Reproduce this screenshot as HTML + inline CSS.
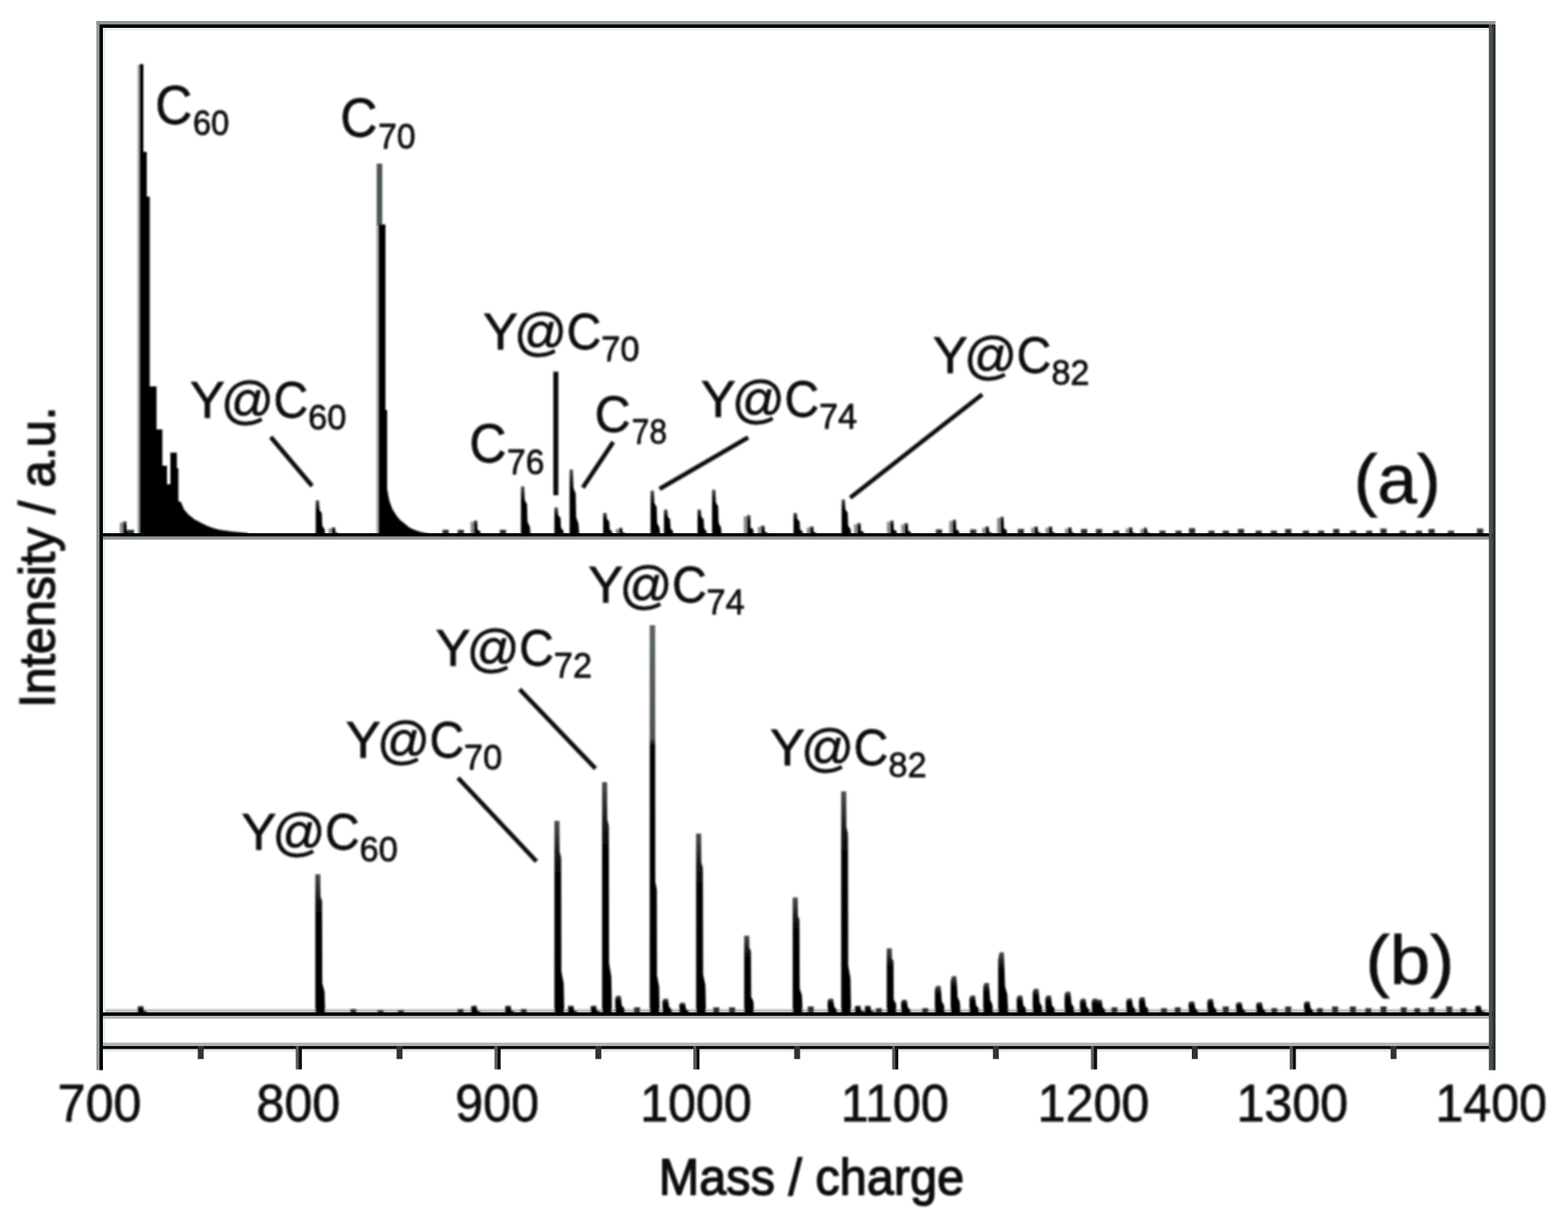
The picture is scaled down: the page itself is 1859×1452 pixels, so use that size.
<!DOCTYPE html>
<html lang="en">
<head>
<meta charset="utf-8">
<title>Mass spectra</title>
<style>
html,body{margin:0;padding:0;background:#fff;}
body{width:1859px;height:1452px;overflow:hidden;}
svg{display:block;}
text{font-family:"Liberation Sans",Arial,sans-serif;fill:#0a0a0a;stroke:#0a0a0a;stroke-width:0.8;}
</style>
</head>
<body>
<svg width="1859" height="1452" viewBox="0 0 1859 1452">
<defs>
<filter id="b1" x="-2%" y="-2%" width="104%" height="104%"><feGaussianBlur stdDeviation="1.0"/></filter>
<linearGradient id="g1" x1="0" y1="0" x2="0" y2="1"><stop offset="0" stop-color="#4a5050"/><stop offset="0.15" stop-color="#1c2020"/><stop offset="0.3" stop-color="#000"/></linearGradient>
<linearGradient id="g2" x1="0" y1="0" x2="0" y2="1"><stop offset="0" stop-color="#5c6262"/><stop offset="0.29" stop-color="#4a5050"/><stop offset="0.31" stop-color="#000"/></linearGradient>
<filter id="b2" x="-2%" y="-2%" width="104%" height="104%"><feGaussianBlur stdDeviation="0.55"/></filter>
<filter id="b3" x="-2%" y="-2%" width="104%" height="104%"><feGaussianBlur stdDeviation="1.1"/></filter>
</defs>
<rect width="1859" height="1452" fill="#fff"/>
<g filter="url(#b1)">
<g fill="#000">
<rect x="122.0" y="1196.4" width="1643.0" height="4.1" fill="#b4b8b8"/>
<rect x="163.0" y="77.0" width="2.2" height="557.0" fill="#a8aeae"/>
<polygon points="165.2,634.0 165.2,76.0 170.0,76.0 170.0,180.0 174.0,180.0 174.0,233.0 177.5,233.0 177.5,458.0 185.6,458.0 185.6,509.0 192.5,509.0 192.5,552.0 198.0,552.0 198.0,574.0 202.0,574.0 202.0,536.6 209.7,536.6 209.7,555.0 211.5,555.0 211.5,594.0 214.5,595.0 218.0,603.5 223.0,609.5 230.4,615.5 239.0,620.0 245.5,623.3 253.0,626.0 260.5,628.0 275.0,630.0 292.8,631.8 297.0,634.0"/>
<rect x="446.2" y="266.0" width="2.4" height="368.0" fill="#a8aeae"/>
<rect x="446.6" y="194.0" width="6.6" height="73.0" fill="#4e5454"/>
<polygon points="448.6,634.0 448.6,266.0 453.0,266.0 457.0,266.0 457.0,486.0 459.0,486.0 459.0,580.0 461.5,593.0 465.0,603.0 470.0,611.0 474.0,616.0 479.0,620.0 485.0,625.0 490.0,627.5 497.0,630.0 505.0,632.0 512.0,633.5 514.0,634.0"/>
<rect x="142.0" y="619.5" width="4.1" height="15.5" fill="#8a9090"/><polygon fill="url(#g1)" points="145.9,635.0 145.9,618.0 149.9,618.0 150.1,628.2 153.5,629.9 153.9,635.0"/>
<polygon fill="#2a2e2e" points="151.6,635.0 151.6,628.0 159.0,628.0 159.0,635.0"/>
<polygon fill="url(#g1)" points="374.3,635.0 374.3,593.0 378.3,593.0 378.9,604.8 381.5,608.1 382.1,623.2 384.9,627.4 385.8,635.0"/>
<rect x="389.5" y="626.5" width="4.1" height="8.5" fill="#8a9090"/><polygon fill="url(#g1)" points="393.4,635.0 393.4,625.0 397.4,625.0 397.6,631.0 401.0,632.0 401.4,635.0"/>
<polygon fill="#2a2e2e" points="524.6,635.0 524.6,628.0 532.0,628.0 532.0,635.0"/>
<polygon fill="#2a2e2e" points="542.6,635.0 542.6,628.0 550.0,628.0 550.0,635.0"/>
<rect x="557.9" y="618.5" width="4.1" height="16.5" fill="#8a9090"/><polygon fill="url(#g1)" points="561.8,635.0 561.8,617.0 565.8,617.0 566.0,627.8 569.4,629.6 569.8,635.0"/>
<polygon fill="#2a2e2e" points="592.6,635.0 592.6,628.0 600.0,628.0 600.0,635.0"/>
<polygon fill="url(#g1)" points="617.6,635.0 617.6,576.5 621.6,576.5 622.2,592.9 624.8,597.6 625.4,618.6 628.2,624.5 629.1,635.0"/>
<polygon fill="url(#g1)" points="657.3,635.0 657.3,601.5 661.3,601.5 661.9,610.9 664.5,613.6 665.1,625.6 667.9,629.0 668.8,635.0"/>
<polygon fill="url(#g1)" points="675.3,635.0 675.3,556.5 679.3,556.5 679.9,578.5 682.5,584.8 683.1,613.0 685.9,620.9 686.8,635.0"/>
<polygon fill="url(#g1)" points="715.1,635.0 715.1,608.0 719.1,608.0 719.7,615.6 722.3,617.7 722.9,627.4 725.7,630.1 726.6,635.0"/>
<rect x="730.0" y="627.0" width="4.1" height="8.0" fill="#8a9090"/><polygon fill="url(#g1)" points="733.9,635.0 733.9,625.5 737.9,625.5 738.1,631.2 741.5,632.1 741.9,635.0"/>
<polygon fill="url(#g1)" points="771.3,635.0 771.3,581.5 775.3,581.5 775.9,596.5 778.5,600.8 779.1,620.0 781.9,625.4 782.8,635.0"/>
<polygon fill="url(#g1)" points="787.2,635.0 787.2,604.0 791.2,604.0 791.8,612.7 794.4,615.2 795.0,626.3 797.8,629.4 798.7,635.0"/>
<polygon fill="url(#g1)" points="827.0,635.0 827.0,604.0 831.0,604.0 831.6,612.7 834.2,615.2 834.8,626.3 837.6,629.4 838.5,635.0"/>
<polygon fill="url(#g1)" points="844.2,635.0 844.2,580.5 848.2,580.5 848.8,595.8 851.4,600.1 852.0,619.7 854.8,625.2 855.7,635.0"/>
<rect x="881.7" y="612.0" width="4.1" height="23.0" fill="#8a9090"/><polygon fill="url(#g1)" points="885.6,635.0 885.6,610.5 889.6,610.5 889.8,625.2 893.2,627.6 893.6,635.0"/>
<rect x="898.5" y="624.5" width="4.1" height="10.5" fill="#8a9090"/><polygon fill="url(#g1)" points="902.4,635.0 902.4,623.0 906.4,623.0 906.6,630.2 910.0,631.4 910.4,635.0"/>
<polygon fill="url(#g1)" points="940.8,635.0 940.8,608.0 944.8,608.0 945.4,615.6 948.0,617.7 948.6,627.4 951.4,630.1 952.3,635.0"/>
<rect x="956.5" y="625.5" width="4.1" height="9.5" fill="#8a9090"/><polygon fill="url(#g1)" points="960.4,635.0 960.4,624.0 964.4,624.0 964.6,630.6 968.0,631.7 968.4,635.0"/>
<polygon fill="url(#g1)" points="997.8,635.0 997.8,592.0 1001.8,592.0 1002.4,604.0 1005.0,607.5 1005.6,623.0 1008.4,627.3 1009.3,635.0"/>
<rect x="1012.5" y="621.5" width="4.1" height="13.5" fill="#8a9090"/><polygon fill="url(#g1)" points="1016.4,635.0 1016.4,620.0 1020.4,620.0 1020.6,629.0 1024.0,630.5 1024.4,635.0"/>
<rect x="1051.5" y="618.5" width="4.1" height="16.5" fill="#8a9090"/><polygon fill="url(#g1)" points="1055.4,635.0 1055.4,617.0 1059.4,617.0 1059.6,627.8 1063.0,629.6 1063.4,635.0"/>
<rect x="1068.5" y="621.5" width="4.1" height="13.5" fill="#8a9090"/><polygon fill="url(#g1)" points="1072.4,635.0 1072.4,620.0 1076.4,620.0 1076.6,629.0 1080.0,630.5 1080.4,635.0"/>
<polygon fill="#2a2e2e" points="1109.6,635.0 1109.6,627.5 1117.0,627.5 1117.0,635.0"/>
<rect x="1125.5" y="617.5" width="4.1" height="17.5" fill="#8a9090"/><polygon fill="url(#g1)" points="1129.4,635.0 1129.4,616.0 1133.4,616.0 1133.6,627.4 1137.0,629.3 1137.4,635.0"/>
<polygon fill="#2a2e2e" points="1150.1,635.0 1150.1,627.5 1157.5,627.5 1157.5,635.0"/>
<rect x="1164.5" y="625.5" width="4.1" height="9.5" fill="#8a9090"/><polygon fill="url(#g1)" points="1168.4,635.0 1168.4,624.0 1172.4,624.0 1172.6,630.6 1176.0,631.7 1176.4,635.0"/>
<rect x="1182.1" y="614.0" width="4.1" height="21.0" fill="#8a9090"/><polygon fill="url(#g1)" points="1186.0,635.0 1186.0,612.5 1190.0,612.5 1190.2,626.0 1193.6,628.2 1194.0,635.0"/>
<polygon fill="#2a2e2e" points="1206.6,635.0 1206.6,627.0 1214.0,627.0 1214.0,635.0"/>
<rect x="1222.5" y="625.5" width="4.1" height="9.5" fill="#8a9090"/><polygon fill="url(#g1)" points="1226.4,635.0 1226.4,624.0 1230.4,624.0 1230.6,630.6 1234.0,631.7 1234.4,635.0"/>
<rect x="1239.5" y="625.5" width="4.1" height="9.5" fill="#8a9090"/><polygon fill="url(#g1)" points="1243.4,635.0 1243.4,624.0 1247.4,624.0 1247.6,630.6 1251.0,631.7 1251.4,635.0"/>
<rect x="1262.5" y="626.5" width="4.1" height="8.5" fill="#8a9090"/><polygon fill="url(#g1)" points="1266.4,635.0 1266.4,625.0 1270.4,625.0 1270.6,631.0 1274.0,632.0 1274.4,635.0"/>
<polygon fill="#2a2e2e" points="1281.6,635.0 1281.6,627.0 1289.0,627.0 1289.0,635.0"/>
<polygon fill="#2a2e2e" points="1299.3,635.0 1299.3,627.0 1306.7,627.0 1306.7,635.0"/>
<polygon fill="#2a2e2e" points="1319.6,635.0 1319.6,629.0 1327.0,629.0 1327.0,635.0"/>
<rect x="1334.5" y="626.5" width="4.1" height="8.5" fill="#8a9090"/><polygon fill="url(#g1)" points="1338.4,635.0 1338.4,625.0 1342.4,625.0 1342.6,631.0 1346.0,632.0 1346.4,635.0"/>
<rect x="1352.0" y="627.0" width="4.1" height="8.0" fill="#8a9090"/><polygon fill="url(#g1)" points="1355.9,635.0 1355.9,625.5 1359.9,625.5 1360.1,631.2 1363.5,632.1 1363.9,635.0"/>
<polygon fill="#2a2e2e" points="1374.6,635.0 1374.6,629.0 1382.0,629.0 1382.0,635.0"/>
<polygon fill="#2a2e2e" points="1393.6,635.0 1393.6,629.0 1401.0,629.0 1401.0,635.0"/>
<polygon fill="#2a2e2e" points="1409.6,635.0 1409.6,626.0 1417.0,626.0 1417.0,635.0"/>
<polygon fill="#2a2e2e" points="1432.6,635.0 1432.6,629.0 1440.0,629.0 1440.0,635.0"/>
<polygon fill="#2a2e2e" points="1449.6,635.0 1449.6,629.0 1457.0,629.0 1457.0,635.0"/>
<polygon fill="#2a2e2e" points="1467.6,635.0 1467.6,627.0 1475.0,627.0 1475.0,635.0"/>
<polygon fill="#2a2e2e" points="1488.6,635.0 1488.6,629.0 1496.0,629.0 1496.0,635.0"/>
<polygon fill="#2a2e2e" points="1506.6,635.0 1506.6,629.0 1514.0,629.0 1514.0,635.0"/>
<polygon fill="#2a2e2e" points="1523.6,635.0 1523.6,627.0 1531.0,627.0 1531.0,635.0"/>
<polygon fill="#2a2e2e" points="1544.6,635.0 1544.6,629.0 1552.0,629.0 1552.0,635.0"/>
<polygon fill="#2a2e2e" points="1562.6,635.0 1562.6,629.0 1570.0,629.0 1570.0,635.0"/>
<polygon fill="#2a2e2e" points="1580.6,635.0 1580.6,627.0 1588.0,627.0 1588.0,635.0"/>
<polygon fill="#2a2e2e" points="1600.6,635.0 1600.6,629.0 1608.0,629.0 1608.0,635.0"/>
<polygon fill="#2a2e2e" points="1619.6,635.0 1619.6,629.0 1627.0,629.0 1627.0,635.0"/>
<polygon fill="#2a2e2e" points="1636.6,635.0 1636.6,626.5 1644.0,626.5 1644.0,635.0"/>
<polygon fill="#2a2e2e" points="1659.6,635.0 1659.6,629.0 1667.0,629.0 1667.0,635.0"/>
<polygon fill="#2a2e2e" points="1678.6,635.0 1678.6,629.0 1686.0,629.0 1686.0,635.0"/>
<polygon fill="#2a2e2e" points="1693.6,635.0 1693.6,627.0 1701.0,627.0 1701.0,635.0"/>
<polygon fill="#2a2e2e" points="1716.6,635.0 1716.6,629.0 1724.0,629.0 1724.0,635.0"/>
<polygon fill="#2a2e2e" points="1751.1,635.0 1751.1,626.5 1758.5,626.5 1758.5,635.0"/>
<polygon fill="url(#g1)" points="163.1,1202.0 163.1,1193.9 164.6,1192.5 169.7,1192.5 170.5,1195.8 171.1,1197.7 174.1,1199.0 174.9,1202.0"/>
<polygon fill="#2a2e2e" points="415.1,1202.0 415.1,1196.0 422.5,1196.0 422.5,1202.0"/>
<polygon fill="#2a2e2e" points="447.6,1202.0 447.6,1197.0 455.0,1197.0 455.0,1202.0"/>
<polygon fill="#2a2e2e" points="471.6,1202.0 471.6,1197.0 479.0,1197.0 479.0,1202.0"/>
<polygon fill="#2a2e2e" points="542.3,1202.0 542.3,1196.0 549.7,1196.0 549.7,1202.0"/>
<polygon fill="url(#g1)" points="558.4,1202.0 558.4,1193.5 559.9,1192.0 565.0,1192.0 565.8,1195.5 566.4,1197.5 569.4,1198.8 570.2,1202.0"/>
<polygon fill="url(#g1)" points="598.7,1202.0 598.7,1193.5 600.2,1192.0 605.3,1192.0 606.1,1195.5 606.7,1197.5 609.7,1198.8 610.5,1202.0"/>
<polygon fill="#2a2e2e" points="617.2,1202.0 617.2,1196.0 624.6,1196.0 624.6,1202.0"/>
<polygon fill="url(#g1)" points="673.2,1202.0 673.2,1193.5 674.7,1192.0 679.8,1192.0 680.6,1195.5 681.2,1197.5 684.2,1198.8 685.0,1202.0"/>
<polygon fill="url(#g1)" points="700.1,1202.0 700.1,1193.5 701.6,1192.0 706.7,1192.0 707.5,1195.5 708.1,1197.5 711.1,1198.8 711.9,1202.0"/>
<polygon fill="url(#g1)" points="729.4,1202.0 729.4,1183.6 730.9,1180.3 736.0,1180.3 736.8,1187.9 737.4,1192.2 740.4,1195.1 741.2,1202.0"/>
<polygon fill="#2a2e2e" points="751.6,1202.0 751.6,1194.0 759.0,1194.0 759.0,1202.0"/>
<polygon fill="url(#g1)" points="785.4,1202.0 785.4,1186.5 786.9,1183.8 792.0,1183.8 792.8,1190.2 793.4,1193.8 796.4,1196.2 797.2,1202.0"/>
<polygon fill="url(#g1)" points="805.4,1202.0 805.4,1190.5 806.9,1188.5 812.0,1188.5 812.8,1193.2 813.4,1195.9 816.4,1197.7 817.2,1202.0"/>
<polygon fill="#2a2e2e" points="845.6,1202.0 845.6,1194.0 853.0,1194.0 853.0,1202.0"/>
<polygon fill="#2a2e2e" points="864.3,1202.0 864.3,1194.0 871.7,1194.0 871.7,1202.0"/>
<polygon fill="#2a2e2e" points="957.6,1202.0 957.6,1193.0 965.0,1193.0 965.0,1202.0"/>
<polygon fill="url(#g1)" points="981.2,1202.0 981.2,1186.5 982.7,1183.8 987.8,1183.8 988.6,1190.2 989.2,1193.8 992.2,1196.2 993.0,1202.0"/>
<polygon fill="url(#g1)" points="1013.4,1202.0 1013.4,1193.5 1014.9,1192.0 1020.0,1192.0 1020.8,1195.5 1021.4,1197.5 1024.4,1198.8 1025.2,1202.0"/>
<polygon fill="url(#g1)" points="1025.2,1202.0 1025.2,1193.5 1026.7,1192.0 1031.8,1192.0 1032.6,1195.5 1033.2,1197.5 1036.2,1198.8 1037.0,1202.0"/>
<polygon fill="#2a2e2e" points="1038.3,1202.0 1038.3,1195.0 1045.7,1195.0 1045.7,1202.0"/>
<polygon fill="url(#g1)" points="1068.4,1202.0 1068.4,1187.5 1069.9,1185.0 1075.0,1185.0 1075.8,1191.0 1076.4,1194.3 1079.4,1196.6 1080.2,1202.0"/>
<polygon fill="#2a2e2e" points="1093.3,1202.0 1093.3,1195.0 1100.7,1195.0 1100.7,1202.0"/>
<polygon fill="url(#g1)" points="1108.4,1202.0 1108.4,1172.6 1110.0,1168.6 1115.2,1168.6 1116.0,1178.6 1116.6,1187.0 1119.2,1191.3 1119.9,1197.0 1120.9,1202.0"/>
<polygon fill="url(#g1)" points="1127.1,1202.0 1127.1,1162.4 1128.7,1157.0 1133.9,1157.0 1134.7,1170.5 1135.3,1181.8 1137.9,1187.6 1138.6,1195.2 1139.6,1202.0"/>
<polygon fill="url(#g1)" points="1149.4,1202.0 1149.4,1183.3 1150.9,1180.0 1156.0,1180.0 1156.8,1187.7 1157.4,1192.1 1160.4,1195.0 1161.2,1202.0"/>
<polygon fill="url(#g1)" points="1165.7,1202.0 1165.7,1169.4 1167.3,1165.0 1172.5,1165.0 1173.3,1176.1 1173.9,1185.3 1176.5,1190.2 1177.2,1196.5 1178.2,1202.0"/>
<polygon fill="url(#g1)" points="1183.4,1202.0 1183.4,1137.6 1185.0,1128.8 1190.2,1128.8 1191.0,1150.8 1191.6,1169.1 1194.2,1178.6 1194.9,1191.0 1195.9,1202.0"/>
<polygon fill="url(#g1)" points="1205.4,1202.0 1205.4,1183.3 1206.9,1180.0 1212.0,1180.0 1212.8,1187.7 1213.4,1192.1 1216.4,1195.0 1217.2,1202.0"/>
<polygon fill="url(#g1)" points="1224.4,1202.0 1224.4,1175.6 1226.0,1172.0 1231.2,1172.0 1232.0,1181.0 1232.6,1188.5 1235.2,1192.4 1235.9,1197.5 1236.9,1202.0"/>
<polygon fill="url(#g1)" points="1239.4,1202.0 1239.4,1183.3 1240.9,1180.0 1246.0,1180.0 1246.8,1187.7 1247.4,1192.1 1250.4,1195.0 1251.2,1202.0"/>
<polygon fill="url(#g1)" points="1262.2,1202.0 1262.2,1178.8 1263.8,1175.6 1269.0,1175.6 1269.8,1183.5 1270.4,1190.1 1273.0,1193.6 1273.7,1198.0 1274.7,1202.0"/>
<polygon fill="url(#g1)" points="1280.4,1202.0 1280.4,1186.5 1281.9,1183.8 1287.0,1183.8 1287.8,1190.2 1288.4,1193.8 1291.4,1196.2 1292.2,1202.0"/>
<polygon fill="url(#g1)" points="1294.4,1202.0 1294.4,1186.5 1295.9,1183.8 1301.0,1183.8 1301.8,1190.2 1302.4,1193.8 1305.4,1196.2 1306.2,1202.0"/>
<polygon fill="url(#g1)" points="1299.4,1202.0 1299.4,1187.5 1300.9,1185.0 1306.0,1185.0 1306.8,1191.0 1307.4,1194.3 1310.4,1196.6 1311.2,1202.0"/>
<polygon fill="#2a2e2e" points="1317.6,1202.0 1317.6,1194.0 1325.0,1194.0 1325.0,1202.0"/>
<polygon fill="url(#g1)" points="1335.4,1202.0 1335.4,1186.2 1336.9,1183.4 1342.0,1183.4 1342.8,1189.9 1343.4,1193.6 1346.4,1196.0 1347.2,1202.0"/>
<polygon fill="url(#g1)" points="1350.4,1202.0 1350.4,1185.0 1351.9,1182.0 1357.0,1182.0 1357.8,1189.0 1358.4,1193.0 1361.4,1195.6 1362.2,1202.0"/>
<polygon fill="#2a2e2e" points="1376.3,1202.0 1376.3,1195.0 1383.7,1195.0 1383.7,1202.0"/>
<polygon fill="#2a2e2e" points="1392.6,1202.0 1392.6,1194.0 1400.0,1194.0 1400.0,1202.0"/>
<polygon fill="url(#g1)" points="1409.2,1202.0 1409.2,1189.2 1410.7,1187.0 1415.8,1187.0 1416.6,1192.2 1417.2,1195.2 1420.2,1197.2 1421.0,1202.0"/>
<polygon fill="url(#g1)" points="1431.4,1202.0 1431.4,1186.7 1432.9,1184.0 1438.0,1184.0 1438.8,1190.3 1439.4,1193.9 1442.4,1196.2 1443.2,1202.0"/>
<polygon fill="#2a2e2e" points="1449.6,1202.0 1449.6,1193.0 1457.0,1193.0 1457.0,1202.0"/>
<polygon fill="url(#g1)" points="1465.4,1202.0 1465.4,1190.1 1466.9,1188.0 1472.0,1188.0 1472.8,1192.9 1473.4,1195.7 1476.4,1197.5 1477.2,1202.0"/>
<polygon fill="url(#g1)" points="1489.4,1202.0 1489.4,1190.1 1490.9,1188.0 1496.0,1188.0 1496.8,1192.9 1497.4,1195.7 1500.4,1197.5 1501.2,1202.0"/>
<polygon fill="#2a2e2e" points="1507.1,1202.0 1507.1,1195.0 1514.5,1195.0 1514.5,1202.0"/>
<polygon fill="#2a2e2e" points="1523.6,1202.0 1523.6,1193.0 1531.0,1193.0 1531.0,1202.0"/>
<polygon fill="url(#g1)" points="1546.0,1202.0 1546.0,1189.2 1547.5,1187.0 1552.6,1187.0 1553.4,1192.2 1554.0,1195.2 1557.0,1197.2 1557.8,1202.0"/>
<polygon fill="#2a2e2e" points="1561.2,1202.0 1561.2,1195.0 1568.6,1195.0 1568.6,1202.0"/>
<polygon fill="#2a2e2e" points="1579.2,1202.0 1579.2,1193.0 1586.6,1193.0 1586.6,1202.0"/>
<polygon fill="#2a2e2e" points="1600.3,1202.0 1600.3,1193.0 1607.7,1193.0 1607.7,1202.0"/>
<polygon fill="#2a2e2e" points="1618.6,1202.0 1618.6,1195.0 1626.0,1195.0 1626.0,1202.0"/>
<polygon fill="#2a2e2e" points="1636.6,1202.0 1636.6,1193.0 1644.0,1193.0 1644.0,1202.0"/>
<polygon fill="#2a2e2e" points="1660.6,1202.0 1660.6,1194.0 1668.0,1194.0 1668.0,1202.0"/>
<polygon fill="#2a2e2e" points="1676.6,1202.0 1676.6,1195.0 1684.0,1195.0 1684.0,1202.0"/>
<polygon fill="#2a2e2e" points="1693.6,1202.0 1693.6,1194.0 1701.0,1194.0 1701.0,1202.0"/>
<polygon fill="#2a2e2e" points="1714.6,1202.0 1714.6,1193.0 1722.0,1193.0 1722.0,1202.0"/>
<polygon fill="#2a2e2e" points="1731.6,1202.0 1731.6,1195.0 1739.0,1195.0 1739.0,1202.0"/>
<polygon fill="url(#g1)" points="1748.9,1202.0 1748.9,1193.5 1750.4,1192.0 1755.5,1192.0 1756.3,1195.5 1756.9,1197.5 1759.9,1198.8 1760.7,1202.0"/>
<polygon fill="url(#g1)" points="373.8,1202.0 373.8,1036.3 379.8,1036.3 380.0,1062.8 381.8,1067.8 382.1,1165.5 384.8,1175.5 385.6,1202.0"/>
<polygon fill="url(#g1)" points="657.3,1202.0 657.3,973.0 663.3,973.0 663.5,1009.6 665.3,1016.5 665.6,1151.6 668.3,1165.4 669.1,1202.0"/>
<polygon fill="url(#g1)" points="713.8,1202.0 713.8,927.0 719.8,927.0 720.0,971.0 721.8,979.2 722.1,1141.5 724.8,1158.0 725.6,1202.0"/>
<polygon fill="url(#g2)" points="770.3,1202.0 770.3,741.0 776.7,741.0 776.9,1045.3 778.7,1054.5 778.9,1155.9 781.5,1169.7 782.1,1202.0"/>
<polygon fill="url(#g1)" points="825.3,1202.0 825.3,988.0 831.3,988.0 831.5,1022.2 833.3,1028.7 833.6,1154.9 836.3,1167.8 837.1,1202.0"/>
<polygon fill="url(#g1)" points="882.3,1202.0 882.3,1109.0 888.3,1109.0 888.5,1123.9 890.3,1126.7 890.6,1181.5 893.3,1187.1 894.1,1202.0"/>
<polygon fill="url(#g1)" points="939.8,1202.0 939.8,1063.7 945.8,1063.7 946.0,1085.8 947.8,1090.0 948.1,1171.6 950.8,1179.9 951.6,1202.0"/>
<polygon fill="url(#g1)" points="997.3,1202.0 997.3,938.0 1003.3,938.0 1003.5,980.2 1005.3,988.2 1005.6,1143.9 1008.3,1159.8 1009.1,1202.0"/>
<polygon fill="url(#g1)" points="1051.3,1202.0 1051.3,1124.0 1057.3,1124.0 1057.5,1136.5 1059.3,1138.8 1059.6,1184.8 1062.3,1189.5 1063.1,1202.0"/>
</g>
</g>
<g filter="url(#b2)">
<rect x="122.0" y="33.0" width="1643.0" height="3.0" fill="#e8eeee"/>
<rect x="122.0" y="33.0" width="3.0" height="1203.0" fill="#e8eeee"/>
<rect x="114.3" y="24.9" width="1658.7" height="4.2" fill="#8e9696"/>
<rect x="117.6" y="29.0" width="1655.4" height="4.0" fill="#000"/>
<rect x="118.0" y="632.0" width="1652.0" height="3.9" fill="#000"/>
<rect x="118.0" y="635.8" width="1652.0" height="3.8" fill="#8a9292"/>
<rect x="118.0" y="1200.0" width="1652.0" height="4.0" fill="#000"/>
<rect x="118.0" y="1204.0" width="1652.0" height="3.5" fill="#b2b5b5"/>
<rect x="122.0" y="1243.2" width="1643.0" height="3.2" fill="#e6eaea"/>
<rect x="118.0" y="1235.8" width="1652.0" height="4.2" fill="#b2b5b5"/>
<rect x="118.0" y="1239.9" width="1652.0" height="3.5" fill="#000"/>
<rect x="114.3" y="24.9" width="3.8" height="1243.5" fill="#8e9696"/>
<rect x="118.0" y="29.0" width="4.0" height="1239.5" fill="#000"/>
<rect x="1765.2" y="29.0" width="4.2" height="1239.5" fill="#4a4f4f"/>
<rect x="1769.2" y="29.0" width="3.9" height="1239.5" fill="#2c3030"/>
<rect x="234.5" y="1240" width="7" height="15.3" fill="#333"/>
<rect x="350.6" y="1240" width="3.6" height="27.6" fill="#565c5c"/>
<rect x="354.1" y="1240" width="3.8" height="27.6" fill="#0c0e0e"/>
<rect x="470.2" y="1240" width="7" height="15.3" fill="#333"/>
<rect x="586.3" y="1240" width="3.6" height="27.6" fill="#565c5c"/>
<rect x="589.8" y="1240" width="3.8" height="27.6" fill="#0c0e0e"/>
<rect x="705.9" y="1240" width="7" height="15.3" fill="#333"/>
<rect x="822.0" y="1240" width="3.6" height="27.6" fill="#565c5c"/>
<rect x="825.5" y="1240" width="3.8" height="27.6" fill="#0c0e0e"/>
<rect x="941.6" y="1240" width="7" height="15.3" fill="#333"/>
<rect x="1057.7" y="1240" width="3.6" height="27.6" fill="#565c5c"/>
<rect x="1061.2" y="1240" width="3.8" height="27.6" fill="#0c0e0e"/>
<rect x="1177.2" y="1240" width="7" height="15.3" fill="#333"/>
<rect x="1293.4" y="1240" width="3.6" height="27.6" fill="#565c5c"/>
<rect x="1296.9" y="1240" width="3.8" height="27.6" fill="#0c0e0e"/>
<rect x="1413.0" y="1240" width="7" height="15.3" fill="#333"/>
<rect x="1529.1" y="1240" width="3.6" height="27.6" fill="#565c5c"/>
<rect x="1532.6" y="1240" width="3.8" height="27.6" fill="#0c0e0e"/>
<rect x="1648.7" y="1240" width="7" height="15.3" fill="#333"/>
</g>
<g filter="url(#b3)">
<line x1="321.0" y1="518.0" x2="370.0" y2="576.0" stroke="#111" stroke-width="5.2"/>
<line x1="659.0" y1="440.5" x2="659.0" y2="587.0" stroke="#111" stroke-width="6.0"/>
<line x1="727.0" y1="524.0" x2="691.0" y2="578.0" stroke="#111" stroke-width="5.2"/>
<line x1="887.0" y1="518.5" x2="782.0" y2="579.5" stroke="#111" stroke-width="5.2"/>
<line x1="1164.5" y1="467.5" x2="1008.0" y2="590.0" stroke="#111" stroke-width="5.2"/>
<line x1="616.0" y1="817.0" x2="706.0" y2="911.0" stroke="#111" stroke-width="5.2"/>
<line x1="543.0" y1="922.0" x2="636.0" y2="1021.0" stroke="#111" stroke-width="5.2"/>
<text font-size="62.0"><tspan x="225.2" y="494.7">Y</tspan><tspan x="262.0">@</tspan><tspan x="324.3" textLength="41.2" lengthAdjust="spacingAndGlyphs">C</tspan><tspan x="365.2" y="508.7" font-size="42.5" textLength="45.4" lengthAdjust="spacingAndGlyphs">60</tspan></text>
<text font-size="62.0"><tspan x="572.7" y="414.3">Y</tspan><tspan x="609.5">@</tspan><tspan x="671.8" textLength="41.2" lengthAdjust="spacingAndGlyphs">C</tspan><tspan x="712.7" y="428.3" font-size="42.5" textLength="45.4" lengthAdjust="spacingAndGlyphs">70</tspan></text>
<text font-size="62.0"><tspan x="830.9" y="493.9">Y</tspan><tspan x="867.7">@</tspan><tspan x="930.0" textLength="41.2" lengthAdjust="spacingAndGlyphs">C</tspan><tspan x="970.9" y="507.9" font-size="42.5" textLength="45.4" lengthAdjust="spacingAndGlyphs">74</tspan></text>
<text font-size="62.0"><tspan x="1106.1" y="442.3">Y</tspan><tspan x="1142.9">@</tspan><tspan x="1205.2" textLength="41.2" lengthAdjust="spacingAndGlyphs">C</tspan><tspan x="1246.4" y="456.3" font-size="42.5" textLength="45.4" lengthAdjust="spacingAndGlyphs">82</tspan></text>
<text font-size="62.0"><tspan x="697.6" y="714.4">Y</tspan><tspan x="734.4">@</tspan><tspan x="796.7" textLength="41.2" lengthAdjust="spacingAndGlyphs">C</tspan><tspan x="837.6" y="728.4" font-size="42.5" textLength="45.4" lengthAdjust="spacingAndGlyphs">74</tspan></text>
<text font-size="62.0"><tspan x="516.5" y="789.4">Y</tspan><tspan x="553.3">@</tspan><tspan x="615.6" textLength="41.2" lengthAdjust="spacingAndGlyphs">C</tspan><tspan x="656.5" y="803.4" font-size="42.5" textLength="45.4" lengthAdjust="spacingAndGlyphs">72</tspan></text>
<text font-size="62.0"><tspan x="410.1" y="897.6">Y</tspan><tspan x="446.9">@</tspan><tspan x="509.2" textLength="41.2" lengthAdjust="spacingAndGlyphs">C</tspan><tspan x="550.1" y="911.6" font-size="42.5" textLength="45.4" lengthAdjust="spacingAndGlyphs">70</tspan></text>
<text font-size="62.0"><tspan x="286.2" y="1006.5">Y</tspan><tspan x="323.0">@</tspan><tspan x="385.3" textLength="41.2" lengthAdjust="spacingAndGlyphs">C</tspan><tspan x="426.2" y="1020.5" font-size="42.5" textLength="45.4" lengthAdjust="spacingAndGlyphs">60</tspan></text>
<text font-size="62.0"><tspan x="913.0" y="906.8">Y</tspan><tspan x="949.8">@</tspan><tspan x="1012.1" textLength="41.2" lengthAdjust="spacingAndGlyphs">C</tspan><tspan x="1053.3" y="920.8" font-size="42.5" textLength="45.4" lengthAdjust="spacingAndGlyphs">82</tspan></text>
<text font-size="64.0"><tspan x="184.1" y="147.4" textLength="43.9" lengthAdjust="spacingAndGlyphs">C</tspan><tspan x="228.7" y="160.4" font-size="42.5" textLength="43.0" lengthAdjust="spacingAndGlyphs">60</tspan></text>
<text font-size="64.0"><tspan x="403.6" y="161.8" textLength="43.9" lengthAdjust="spacingAndGlyphs">C</tspan><tspan x="448.2" y="176.3" font-size="42.5" textLength="44.4" lengthAdjust="spacingAndGlyphs">70</tspan></text>
<text font-size="64.0"><tspan x="556.4" y="548.3" textLength="43.9" lengthAdjust="spacingAndGlyphs">C</tspan><tspan x="601.0" y="562.3" font-size="42.5" textLength="44.4" lengthAdjust="spacingAndGlyphs">76</tspan></text>
<text font-size="61.0"><tspan x="705.0" y="511.7" textLength="42.7" lengthAdjust="spacingAndGlyphs">C</tspan><tspan x="749.1" y="525.7" font-size="42.5" textLength="41.6" lengthAdjust="spacingAndGlyphs">78</tspan></text>
<text transform="translate(1605.0,596.0) scale(1.035,1.000)" font-size="81.5">(a)</text>
<text transform="translate(1619.0,1165.6) scale(1.050,1.000)" font-size="82.0">(b)</text>
<text transform="translate(118.0,1329.0) scale(0.960,1.000)" font-size="62.0" text-anchor="middle" style="stroke-width:0.8">700</text>
<text transform="translate(353.7,1329.0) scale(0.960,1.000)" font-size="62.0" text-anchor="middle" style="stroke-width:0.8">800</text>
<text transform="translate(589.4,1329.0) scale(0.960,1.000)" font-size="62.0" text-anchor="middle" style="stroke-width:0.8">900</text>
<text transform="translate(825.1,1329.0) scale(0.960,1.000)" font-size="62.0" text-anchor="middle" style="stroke-width:0.8">1000</text>
<text transform="translate(1060.8,1329.0) scale(0.960,1.000)" font-size="62.0" text-anchor="middle" style="stroke-width:0.8">1100</text>
<text transform="translate(1296.5,1329.0) scale(0.960,1.000)" font-size="62.0" text-anchor="middle" style="stroke-width:0.8">1200</text>
<text transform="translate(1532.2,1329.0) scale(0.960,1.000)" font-size="62.0" text-anchor="middle" style="stroke-width:0.8">1300</text>
<text transform="translate(1767.9,1329.0) scale(0.960,1.000)" font-size="62.0" text-anchor="middle" style="stroke-width:0.8">1400</text>
<text transform="translate(962.0,1416.0) scale(0.930,1.000)" font-size="62.0" text-anchor="middle" style="stroke-width:1.6">Mass / charge</text>
<text transform="translate(64.5,660.5) rotate(-90) scale(0.955,1)" font-size="60" text-anchor="middle" style="stroke-width:1.6">Intensity / a.u.</text>
</g>
</svg>
</body>
</html>
